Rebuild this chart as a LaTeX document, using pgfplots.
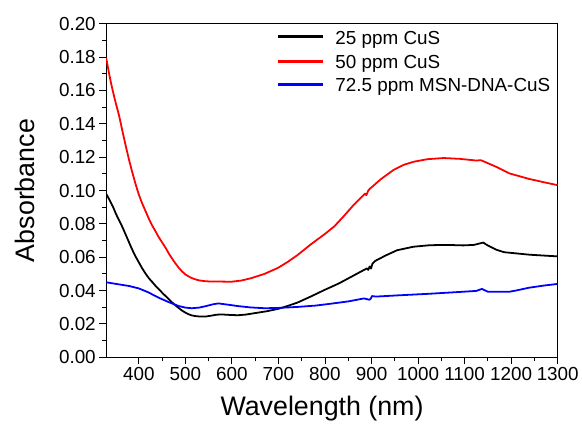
\documentclass[border=0pt]{standalone}
\usepackage{fontspec}
\setmainfont{Liberation Sans}
\usepackage{pgfplots}
\pgfplotsset{compat=1.18}
\begin{document}
\begin{tikzpicture}
\begin{axis}[
  scale only axis,
  width=455pt, height=336pt,
  xmin=330, xmax=1300, ymin=0, ymax=0.20,
  xtick={400,500,...,1300},
  ytick={0,0.02,...,0.201},
  minor x tick num=1, minor y tick num=1,
  xtick pos=bottom, ytick pos=left,
  tick align=outside,
  major tick length=7pt, minor tick length=4pt,
  axis line style={line width=1pt},
  every tick/.style={black, line width=0.9pt},
  /pgf/number format/assume math mode=true,
  ticklabel style={font=\fontsize{19}{19}\selectfont},
  yticklabel style={/pgf/number format/.cd, fixed, fixed zerofill, precision=2},
  xticklabel style={/pgf/number format/1000 sep={}},
  scaled y ticks=false,
  xlabel={Wavelength (nm)}, ylabel={Absorbance},
  label style={font=\fontsize{27}{27}\selectfont},
  xlabel style={at={(axis description cs:0.478,0)}, anchor=center, yshift=-52pt},
  ylabel style={at={(axis description cs:-0.1802,0.5)}, anchor=center},
  every axis plot/.append style={line width=1.8pt, line join=round},
]
\addplot[black] coordinates {
(330,0.098)(336,0.095)(345,0.090)(351,0.086)(358,0.082)(365,0.078)(372,0.0735)(379,0.069)
(386,0.0645)(393,0.0605)(400,0.057)(407,0.0535)(415,0.050)(422,0.0473)(430,0.0448)(437,0.0425)
(445,0.0403)(451,0.0385)(458,0.0366)(465,0.0347)(472,0.0328)(479,0.0311)(486,0.0295)(493,0.028)
(500,0.0268)(507,0.0258)(514,0.0251)(524,0.0246)(535,0.0244)(545,0.0245)(555,0.0249)
(566,0.0255)(577,0.0257)(595,0.0254)(613,0.0252)(630,0.0256)(650,0.0265)(675,0.0276)(699,0.029)(720,0.0308)
(741,0.0328)(770,0.0365)(800,0.0405)(830,0.0443)(860,0.0488)(884,0.0524)(890,0.0533)(893,0.0524)
(896,0.0545)(899,0.0532)(902,0.0562)(908,0.0578)(930,0.061)(955,0.0642)(990,0.0663)(1025,0.0672)
(1060,0.0674)(1097,0.0671)(1120,0.0674)(1133,0.0683)(1140,0.0688)(1150,0.067)(1168,0.0645)
(1185,0.063)(1204,0.0625)(1240,0.0615)(1270,0.061)(1300,0.0605)
};
\addplot[red] coordinates {
(330,0.1796)(333,0.175)(336,0.1705)(340,0.165)(343,0.1612)(347,0.1565)(351,0.152)(355,0.1478)(358,0.1446)(365,0.1355)(372,0.1268)(379,0.1185)
(386,0.111)(393,0.104)(400,0.0977)(407,0.0925)(414,0.088)(421,0.0835)(428,0.0794)(436,0.0755)
(443,0.072)(451,0.0685)(458,0.0655)(465,0.062)(472,0.059)(479,0.0562)(486,0.0536)(493,0.0515)
(500,0.0497)(507,0.0485)(514,0.0475)(522,0.0467)(530,0.0461)(540,0.0457)(550,0.0455)
(575,0.0454)(599,0.0453)(620,0.046)(641,0.0474)(670,0.050)(699,0.0536)(720,0.0572)
(741,0.0613)(770,0.0678)(800,0.0740)(820,0.0785)(840,0.0845)(862,0.0915)(880,0.0965)(886,0.0982)
(889,0.0972)(893,0.1)(897,0.1012)(920,0.1068)(948,0.1125)(970,0.1155)(991,0.1173)(1020,0.1188)
(1055,0.1195)(1090,0.119)(1125,0.118)(1135,0.1182)(1145,0.117)(1168,0.1142)(1196,0.1103)
(1210,0.1092)(1238,0.107)(1270,0.105)(1300,0.1032)
};
\addplot[blue] coordinates {
(330,0.045)(340,0.0445)(358,0.0437)(380,0.0427)(400,0.0413)(420,0.039)(443,0.0357)(465,0.033)
(486,0.0307)(500,0.0298)(514,0.0294)(530,0.0298)(543,0.0306)(560,0.0318)(571,0.0323)(590,0.0316)
(613,0.0307)(640,0.0299)(671,0.0294)(700,0.0296)(741,0.0302)(780,0.031)(812,0.0321)(850,0.0335)
(884,0.0353)(895,0.0345)(898,0.035)(901,0.0367)(910,0.0364)(955,0.0371)(1025,0.0381)(1097,0.0393)
(1125,0.0398)(1137,0.041)(1150,0.0393)(1196,0.0393)(1210,0.040)(1238,0.0417)(1270,0.043)(1300,0.044)
};
% legend samples
\addplot[black, line width=2.4pt] coordinates {(699,0.1923)(795,0.1923)};
\addplot[red, line width=2.4pt] coordinates {(699,0.1774)(795,0.1774)};
\addplot[blue, line width=2.4pt] coordinates {(699,0.1637)(795,0.1637)};
\node[anchor=base west, inner sep=0pt, font=\fontsize{19}{19}\selectfont] at (axis cs:822,0.1875) {25 ppm CuS};
\node[anchor=base west, inner sep=0pt, font=\fontsize{19}{19}\selectfont] at (axis cs:822,0.1729) {50 ppm CuS};
\node[anchor=base west, inner sep=0pt, font=\fontsize{19}{19}\selectfont] at (axis cs:822,0.1595) {72.5 ppm MSN-DNA-CuS};
\end{axis}
\path ([xshift=-107pt,yshift=-66pt]current axis.south west) rectangle ([xshift=20pt,yshift=24pt]current axis.north east);
\end{tikzpicture}
\end{document}
